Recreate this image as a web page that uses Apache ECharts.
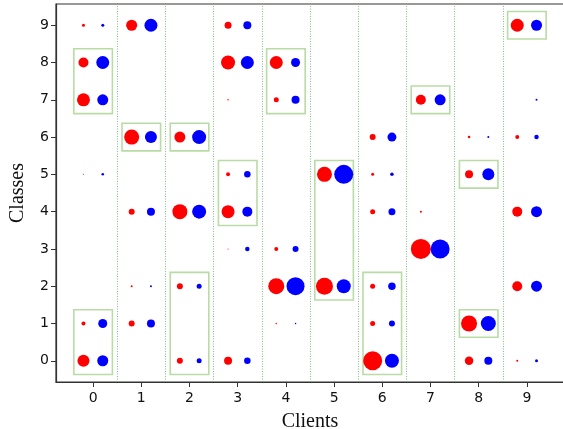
<!DOCTYPE html>
<html>
<head>
<meta charset="utf-8">
<script src="https://cdn.jsdelivr.net/npm/echarts@6/dist/echarts.min.js"></script>
<style>
  html, body { margin: 0; padding: 0; background: #fff; }
  #chart { width: 563px; height: 429px; }
</style>
</head>
<body>
<div id="chart"></div>
<script>
// ---------------------------------------------------------------------------
// Donnees: taille des marqueurs (diametre px) par client/classe
// ---------------------------------------------------------------------------
const clients = [0, 1, 2, 3, 4, 5, 6, 7, 8, 9];
const classes = [0, 1, 2, 3, 4, 5, 6, 7, 8, 9];

// redSize[client][classe], 0 = pas de point
const redSize = [
  [12, 4, 0, 0, 0, 1, 0, 13, 10, 3],
  [0, 6, 2, 0, 6, 0, 15, 0, 0, 11],
  [6, 0, 6, 0, 15, 0, 11, 0, 0, 0],
  [8, 0, 0, 1, 13, 4, 0, 1.5, 14, 7],
  [0, 1.5, 16, 4, 0, 0, 0, 5, 13, 0],
  [0, 0, 17, 0, 0, 15, 0, 0, 0, 0],
  [19, 5, 5, 0, 5, 3, 6, 0, 0, 0],
  [0, 0, 0, 20, 2, 0, 0, 10, 0, 0],
  [8.5, 16, 0, 0, 0, 8, 2.5, 0, 0, 0],
  [2, 0, 10, 0, 10, 0, 4, 0, 0, 13]
];
const blueSize = [
  [11, 9, 0, 0, 0, 2.5, 0, 11, 13, 3],
  [0, 8, 2, 0, 8, 0, 12, 0, 0, 13],
  [5, 0, 5, 0, 14, 0, 14, 0, 0, 0],
  [6.5, 0, 0, 4.5, 10, 6.5, 0, 0, 13, 8],
  [0, 1.5, 18, 6, 0, 0, 0, 8, 9, 0],
  [0, 0, 14, 0, 0, 19, 0, 0, 0, 0],
  [14, 6, 7.5, 0, 7, 3.5, 9, 0, 0, 0],
  [0, 0, 0, 19, 0, 0, 0, 11, 0, 0],
  [8, 15, 0, 0, 0, 12, 2, 0, 0, 0],
  [3, 0, 11, 0, 11, 0, 4.5, 2, 0, 11]
];

// cadres verts: [client, classe basse, classe haute]
const boxes = [
  [0, 7, 8], [0, 0, 1], [1, 6, 6], [2, 6, 6], [2, 0, 2], [3, 4, 5],
  [4, 7, 8], [5, 2, 5], [6, 0, 2], [7, 7, 7], [8, 5, 5], [8, 1, 1], [9, 9, 9]
];

const separators = [0.5, 1.5, 2.5, 3.5, 4.5, 5.5, 6.5, 7.5, 8.5];

const OFFSET = 0.2;
const BOX_HALF_W = 0.4;
const BOX_HALF_H = 0.37;

function points(sizes, dx) {
  const out = [];
  clients.forEach((c) => {
    classes.forEach((k) => {
      const s = sizes[c][k];
      if (s > 0) out.push([c + dx, k, s]);
    });
  });
  return out;
}

const chart = echarts.init(document.getElementById("chart"));

const tickText = { color: "#111", fontSize: 14, fontFamily: "DejaVu Sans" };
const nameText = { color: "#111", fontSize: 20, fontFamily: "Liberation Serif" };
const axisLine = { show: true, onZero: false, lineStyle: { color: "#333", width: 1.2 } };

chart.setOption({
  animation: false,
  backgroundColor: "#fff",
  grid: {
    left: 56, right: -1, top: 4, bottom: 47,
    outerBoundsMode: "none",
    containLabel: false,
    show: true, borderColor: "#333", borderWidth: 1.2
  },
  xAxis: {
    type: "value",
    min: -0.77, max: 9.77,
    name: "Clients",
    nameLocation: "middle",
    nameGap: 30,
    nameTextStyle: nameText,
    axisLine,
    axisTick: { show: true, length: 5, customValues: clients, lineStyle: { color: "#333" } },
    axisLabel: { customValues: clients, margin: 9, ...tickText },
    splitLine: { show: false }
  },
  yAxis: {
    type: "value",
    min: -0.57, max: 9.57,
    name: "Classes",
    nameLocation: "middle",
    nameGap: 28,
    nameRotate: 90,
    nameTextStyle: nameText,
    axisLine,
    axisTick: { show: true, length: 5, customValues: classes, lineStyle: { color: "#333" } },
    axisLabel: { customValues: classes, margin: 7, ...tickText },
    splitLine: { show: false }
  },
  series: [
    {
      type: "custom",
      name: "boxes",
      data: boxes,
      silent: true,
      z: 1,
      renderItem: (params, api) => {
        const c = api.value(0), lo = api.value(1), hi = api.value(2);
        const p1 = api.coord([c - BOX_HALF_W, hi + BOX_HALF_H]);
        const p2 = api.coord([c + BOX_HALF_W, lo - BOX_HALF_H]);
        return {
          type: "rect",
          shape: { x: p1[0], y: p1[1], width: p2[0] - p1[0], height: p2[1] - p1[1] },
          style: { fill: "none", stroke: "#b9dca6", lineWidth: 1.6 }
        };
      },
      markLine: {
        symbol: ["none", "none"],
        silent: true,
        label: { show: false },
        emphasis: { disabled: true },
        lineStyle: { color: "#5cb85c", width: 1, type: [1, 1.5], opacity: 0.8 },
        data: separators.map((x) => ({ xAxis: x }))
      }
    },
    {
      type: "scatter",
      name: "red",
      data: points(redSize, -OFFSET),
      symbolSize: (v) => v[2],
      itemStyle: { color: "#ff0000", opacity: 1 },
      z: 3
    },
    {
      type: "scatter",
      name: "blue",
      data: points(blueSize, OFFSET),
      symbolSize: (v) => v[2],
      itemStyle: { color: "#0000ff", opacity: 1 },
      z: 3
    }
  ]
});
</script>
</body>
</html>
